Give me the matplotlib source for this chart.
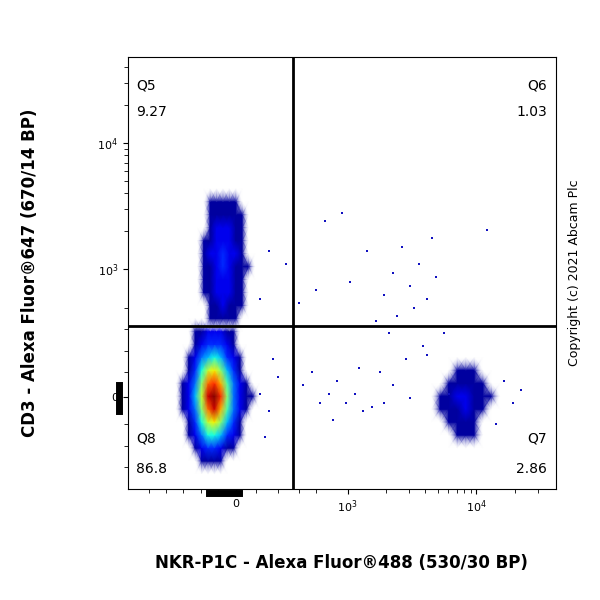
import numpy as np
import matplotlib
matplotlib.use("Agg")
import matplotlib.pyplot as plt

# axis positions are in fraction of the plot (biexponential display)
xtick_pos = [0.252, 0.514, 0.815]
xtick_lab = ["0", "$10^3$", "$10^4$"]
ytick_pos = [0.213, 0.509, 0.801]
ytick_lab = ["0", "$10^3$", "$10^4$"]
gate_x = 0.386
gate_y = 0.377

quad_vals = ["9.27", "1.03", "2.86", "86.8"]

# density grid of the main Q8 cluster (rows bottom->top), grid = cell edges
grid_x = [0.12, 0.135, 0.15, 0.165, 0.18, 0.195, 0.21, 0.225, 0.24, 0.255, 0.27, 0.285, 0.30]
grid_y = [0.05, 0.08, 0.11, 0.14, 0.17, 0.20, 0.23, 0.26, 0.29, 0.32, 0.35, 0.38]
density = [
    [0, 0, 0, 1, 1, 1, 1, 0, 0, 0, 0, 0],
    [0, 0, 1, 2, 3, 3, 2, 1, 1, 0, 0, 0],
    [0, 1, 2, 4, 6, 6, 5, 3, 2, 1, 0, 0],
    [0, 1, 3, 6, 9, 10, 8, 5, 3, 1, 0, 0],
    [1, 2, 4, 8, 12, 14, 11, 7, 4, 2, 1, 0],
    [1, 2, 5, 9, 14, 15, 13, 8, 4, 2, 1, 1],
    [1, 2, 4, 8, 12, 13, 11, 7, 4, 2, 1, 0],
    [0, 1, 3, 6, 9, 10, 8, 5, 3, 1, 0, 0],
    [0, 1, 2, 4, 5, 6, 5, 3, 2, 1, 0, 0],
    [0, 0, 1, 2, 3, 3, 3, 2, 1, 0, 0, 0],
    [0, 0, 1, 1, 2, 2, 2, 1, 1, 0, 0, 0],
]

# upper Q5 cluster grid
up_x = [0.17, 0.185, 0.20, 0.215, 0.23, 0.245, 0.26, 0.275, 0.29]
up_y = [0.38, 0.41, 0.44, 0.47, 0.50, 0.53, 0.56, 0.59, 0.62, 0.65, 0.68]
up_density = [
    [0, 1, 1, 1, 1, 1, 0, 0],
    [0, 1, 1, 2, 1, 1, 1, 0],
    [1, 1, 2, 2, 2, 1, 1, 0],
    [1, 1, 2, 2, 2, 1, 1, 0],
    [1, 1, 2, 3, 2, 1, 1, 1],
    [1, 2, 2, 3, 2, 2, 1, 0],
    [1, 1, 2, 2, 2, 1, 1, 0],
    [0, 1, 2, 2, 2, 1, 1, 0],
    [0, 1, 1, 1, 1, 1, 1, 0],
    [0, 1, 1, 1, 1, 1, 0, 0],
]

# Q7 cluster grid
q7_x = [0.72, 0.74, 0.76, 0.78, 0.80, 0.82, 0.84, 0.86]
q7_y = [0.11, 0.14, 0.17, 0.20, 0.23, 0.26, 0.29]
q7_density = [
    [0, 0, 1, 1, 1, 0, 0],
    [0, 1, 1, 1, 1, 0, 0],
    [1, 1, 1, 2, 1, 1, 0],
    [1, 1, 2, 2, 1, 1, 1],
    [0, 1, 1, 1, 1, 1, 0],
    [0, 0, 1, 1, 1, 0, 0],
]

# scattered events
sparse_x = [0.46, 0.50, 0.52, 0.56, 0.60, 0.62, 0.64, 0.66, 0.68, 0.70, 0.72, 0.63, 0.67, 0.71,
            0.58, 0.61, 0.65, 0.69, 0.74, 0.54, 0.47, 0.84, 0.51, 0.55, 0.49, 0.41, 0.43, 0.45,
            0.48, 0.53, 0.57, 0.59, 0.62, 0.66, 0.88, 0.90, 0.86, 0.31, 0.33, 0.35, 0.32, 0.34,
            0.70, 0.75, 0.60, 0.92, 0.44, 0.40, 0.37, 0.31, 0.33]
sparse_y = [0.62, 0.64, 0.48, 0.55, 0.45, 0.50, 0.56, 0.47, 0.52, 0.44, 0.49, 0.40, 0.42, 0.58,
            0.39, 0.36, 0.30, 0.33, 0.36, 0.28, 0.22, 0.60, 0.20, 0.18, 0.25, 0.24, 0.27, 0.20,
            0.16, 0.22, 0.19, 0.27, 0.24, 0.21, 0.25, 0.20, 0.15, 0.22, 0.18, 0.26, 0.12, 0.30,
            0.31, 0.22, 0.20, 0.23, 0.46, 0.43, 0.52, 0.44, 0.55]

fig = plt.figure(figsize=(6, 6), dpi=100)
ax = fig.add_axes([0.213, 0.185, 0.713, 0.72])

cmap = plt.get_cmap("jet").copy()
cmap.set_under((1, 1, 1, 0))
for gx, gy, d in [(grid_x, grid_y, density), (up_x, up_y, up_density), (q7_x, q7_y, q7_density)]:
    d = np.array(d, dtype=float)
    d = np.pad(d, 1)
    cx = np.convolve(gx, [0.5, 0.5], "valid")
    cy = np.convolve(gy, [0.5, 0.5], "valid")
    sx = cx[1] - cx[0]
    sy = cy[1] - cy[0]
    cx = np.concatenate([[cx[0] - sx], cx, [cx[-1] + sx]])
    cy = np.concatenate([[cy[0] - sy], cy, [cy[-1] + sy]])
    ax.pcolormesh(cx, cy, d, cmap=cmap, vmin=0.6, vmax=15, shading="gouraud")

ax.scatter(sparse_x, sparse_y, s=2, c="#1010c0", marker="s", linewidths=0)

ax.axvline(gate_x, color="black", lw=2)
ax.axhline(gate_y, color="black", lw=2)

# off-scale event rugs
ax.plot([-0.02, -0.02], [0.18, 0.24], color="black", lw=5, clip_on=False)
ax.plot([0.19, 0.26], [-0.01, -0.01], color="black", lw=5, clip_on=False)

ax.set_xticks(xtick_pos)
ax.set_xticklabels(xtick_lab, fontsize=8)
ax.set_yticks(ytick_pos)
ax.set_yticklabels(ytick_lab, fontsize=8)
xminor = [0.05, 0.09, 0.13, 0.17, 0.21, 0.30, 0.35, 0.40, 0.44]
xminor += [0.514 + 0.301 * np.log10(k) for k in range(2, 10)]
xminor += [0.815 + 0.301 * np.log10(k) for k in range(2, 4)]
ax.set_xticks(xminor, minor=True)
yminor = [0.05, 0.10, 0.15, 0.27, 0.32, 0.37, 0.42]
yminor += [0.509 + 0.292 * np.log10(k) for k in range(2, 10)]
yminor += [0.801 + 0.292 * np.log10(k) for k in range(2, 7)]
ax.set_yticks(yminor, minor=True)
ax.tick_params(which="minor", length=3)
ax.set_xlim(0, 1)
ax.set_ylim(0, 1)

ax.text(0.02, 0.95, "Q5", fontsize=10, va="top")
ax.text(0.02, 0.89, quad_vals[0], fontsize=10, va="top")
ax.text(0.98, 0.95, "Q6", fontsize=10, va="top", ha="right")
ax.text(0.98, 0.89, quad_vals[1], fontsize=10, va="top", ha="right")
ax.text(0.98, 0.10, "Q7", fontsize=10, va="bottom", ha="right")
ax.text(0.98, 0.03, quad_vals[2], fontsize=10, va="bottom", ha="right")
ax.text(0.02, 0.10, "Q8", fontsize=10, va="bottom")
ax.text(0.02, 0.03, quad_vals[3], fontsize=10, va="bottom")

ax.set_xlabel("NKR-P1C - Alexa Fluor®488 (530/30 BP)", fontsize=12, fontweight="bold", labelpad=28)
ax.set_ylabel("CD3 - Alexa Fluor®647 (670/14 BP)", fontsize=12, fontweight="bold", labelpad=42)
fig.text(0.958, 0.545, "Copyright (c) 2021 Abcam Plc", rotation=90, fontsize=9, va="center", ha="center")

fig.savefig("out.png", dpi=100)
